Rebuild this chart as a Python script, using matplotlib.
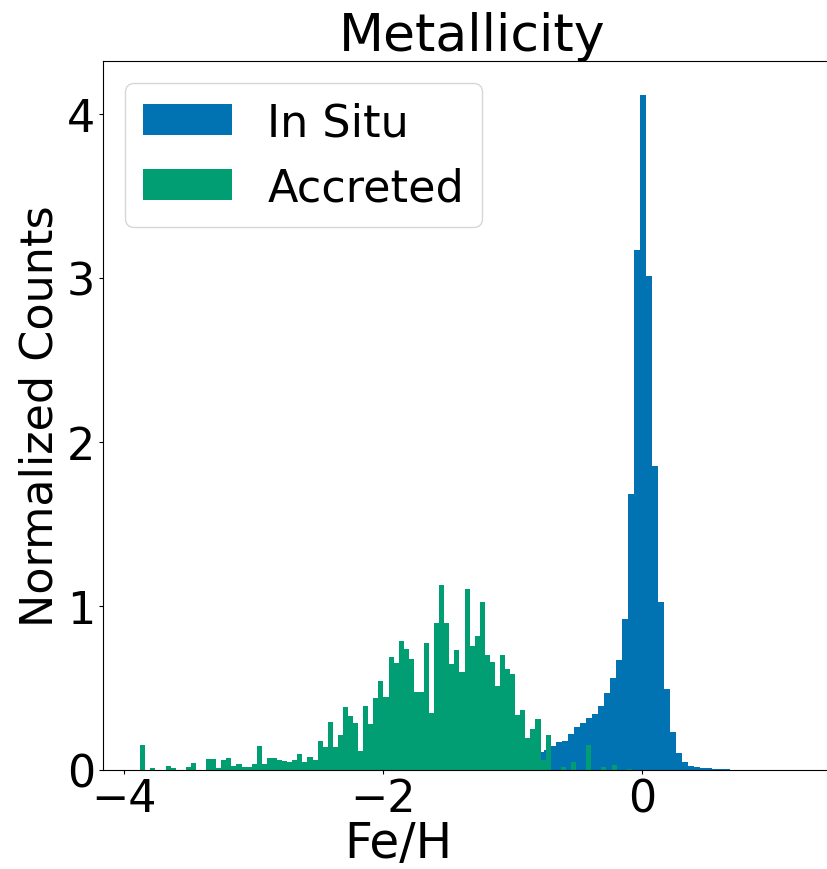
import numpy as np
import matplotlib
matplotlib.use('Agg')
import matplotlib.pyplot as plt

# in situ stars: bin width and first edge
insitu_start = -0.805
insitu_width = 0.0463
insitu_counts = [0.11, 0.12, 0.146, 0.167, 0.173, 0.22, 0.26, 0.285, 0.313, 0.34,
                 0.39, 0.47, 0.56, 0.67, 0.92, 1.68, 3.17, 4.11, 3.01, 1.85,
                 1.02, 0.49, 0.23, 0.10, 0.045, 0.025, 0.015, 0.012, 0.008, 0.006,
                 0.004, 0.003]

# accreted stars
accreted_start = -3.873
accreted_width = 0.0391
accreted_counts = [0.15, 0.0, 0.008, 0.0, 0.0, 0.022, 0.008, 0.0, 0.0, 0.016,
                   0.039, 0.0, 0.0, 0.065, 0.065, 0.01, 0.057, 0.071, 0.024, 0.033,
                   0.018, 0.018, 0.033, 0.142, 0.033, 0.071, 0.071, 0.059, 0.051, 0.045,
                   0.057, 0.098, 0.049, 0.079, 0.059, 0.175, 0.136, 0.293, 0.138, 0.209,
                   0.382, 0.327, 0.287, 0.114, 0.388, 0.278, 0.439, 0.539, 0.441, 0.689,
                   0.650, 0.785, 0.738, 0.677, 0.476, 0.476, 0.770, 0.343, 0.896, 1.128,
                   0.896, 0.642, 0.732, 0.598, 1.102, 0.754, 0.817, 1.024, 0.699, 0.659,
                   0.510, 0.699, 0.616, 0.585, 0.335, 0.364, 0.193, 0.246, 0.307, 0.057,
                   0.213, 0.0, 0.0, 0.014, 0.0, 0.047, 0.0, 0.0, 0.150, 0.0,
                   0.0, 0.014, 0.0, 0.03, 0.0, 0.0, 0.006]

labels = ['In Situ', 'Accreted']
colors = ['#0173B2', '#029E73']

insitu_edges = insitu_start + insitu_width * np.arange(len(insitu_counts) + 1)
accreted_edges = accreted_start + accreted_width * np.arange(len(accreted_counts) + 1)

fig = plt.figure(figsize=(8.28, 8.70), dpi=100)
# the axes runs past the right edge of the picture, as in the (cropped) original
ax = fig.add_axes([0.1244, 0.1141, 0.95, 0.8146])

ax.hist(insitu_edges[:-1], bins=insitu_edges, weights=insitu_counts,
        color=colors[0], label=labels[0])
ax.hist(accreted_edges[:-1], bins=accreted_edges, weights=accreted_counts,
        color=colors[1], label=labels[1])

ax.set_xlim(-4.16, 1.909)
ax.set_ylim(0, 4.32)
ax.set_xticks([-4, -2, 0])
ax.set_yticks([0, 1, 2, 3, 4])
ax.tick_params(labelsize=32, length=3, pad=2.5)

ax.set_title('Metallicity', fontsize=37.5, x=0.469)
ax.set_xlabel('Fe/H', fontsize=35)
ax.xaxis.set_label_coords(0.376, -0.07)
ax.set_ylabel('Normalized Counts', fontsize=32)
ax.legend(loc='upper left', fontsize=32)

fig.savefig('out.png', dpi=100)
